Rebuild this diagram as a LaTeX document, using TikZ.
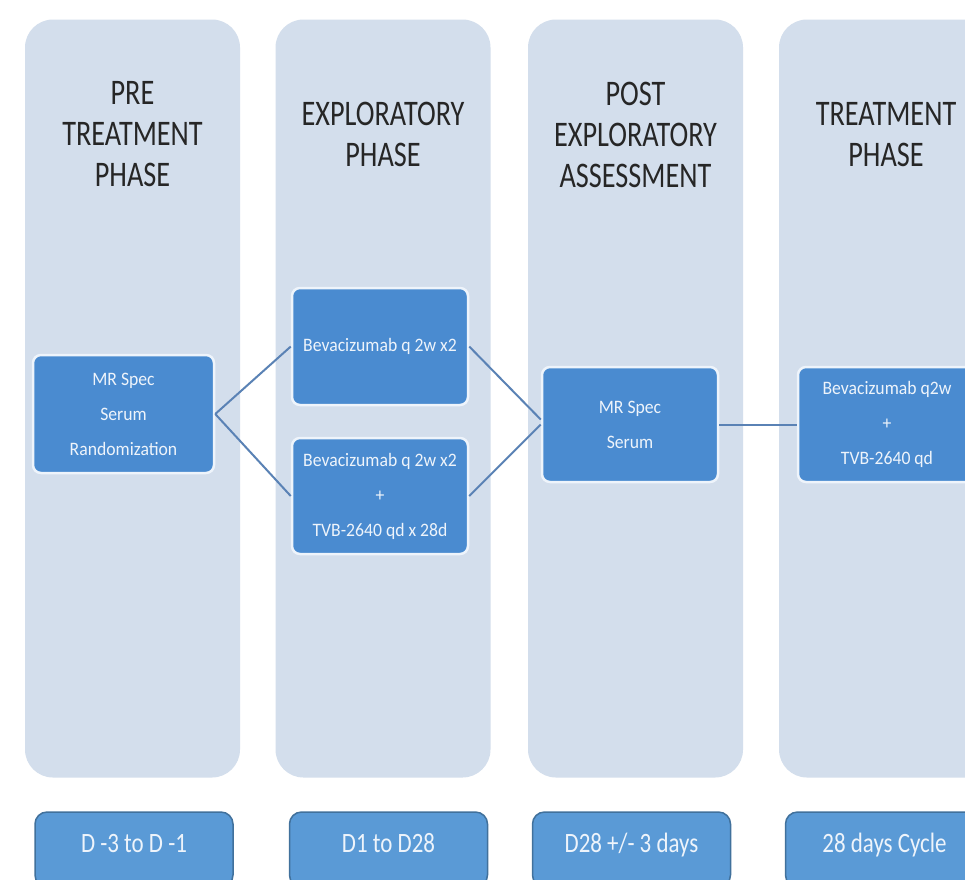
\documentclass[tikz,border=0pt]{standalone}
\usepackage{fontspec}
\setmainfont{Carlito}
\usepackage{graphicx}
\newcommand{\hsq}[1]{\scalebox{0.785}[1]{#1}}
\newcommand{\isq}[1]{\scalebox{0.93}[1]{#1}}
\newcommand{\dsq}[1]{\scalebox{0.82}[1]{#1}}
\definecolor{colbg}{HTML}{D3DEEC}
\definecolor{boxblue}{HTML}{4A8BD0}
\definecolor{boxedge}{HTML}{EEF4FB}
\definecolor{datefill}{HTML}{5A9AD6}
\definecolor{dateedge}{HTML}{41719C}
\definecolor{linkblue}{HTML}{5A82B5}
\definecolor{headgray}{HTML}{262626}
\definecolor{lighttext}{HTML}{EEF4FB}
\tikzset{
  colbox/.style={fill=colbg, draw=none, rounded corners=28pt, minimum width=215pt, minimum height=758pt, inner sep=0pt},
  headtext/.style={text=headgray, align=center, inner sep=0pt, font=\fontsize{36}{41}\selectfont},
  innerbox/.style={fill=boxblue, draw=boxedge, line width=2.5pt, rounded corners=8pt, text=lighttext, align=center, inner sep=0pt, font=\fontsize{19}{35}\selectfont},
  datebox/.style={fill=datefill, draw=dateedge, line width=1.5pt, rounded corners=12pt, text=lighttext, minimum width=198pt, minimum height=75pt, inner sep=0pt, text height=0.65em, text depth=0pt, font=\fontsize{28}{30}\selectfont},
  link/.style={draw=linkblue, line width=2pt}
}
\begin{document}
\begin{tikzpicture}[x=1pt,y=-1pt]
\useasboundingbox (0,0) rectangle (965,879);
\clip (0,0) rectangle (965,879);
\fill[white] (0,0) rectangle (965,879);
% columns
\node[colbox] (c1) at (132.5,398.5) {};
\node[colbox] (c2) at (383,398.5) {};
\node[colbox] (c3) at (635.5,398.5) {};
\node[colbox] (c4) at (886.5,398.5) {};
% headers
\node[headtext] (h1) at (132.5,134.5) {\hsq{PRE}\\\hsq{TREATMENT}\\\hsq{PHASE}};
\node[headtext] (h2) at (383,134.5) {\hsq{EXPLORATORY}\\\hsq{PHASE}};
\node[headtext] (h3) at (635.5,134.5) {\hsq{POST}\\\hsq{EXPLORATORY}\\\hsq{ASSESSMENT}};
\node[headtext] (h4) at (886,134.5) {\hsq{TREATMENT}\\\hsq{PHASE}};
% inner boxes
\node[innerbox, minimum width=181pt, minimum height=118pt] (a) at (123.5,414) {\isq{MR Spec}\\\isq{Serum}\\\isq{Randomization}};
\node[innerbox, minimum width=176pt, minimum height=117pt] (b1) at (380,346.5) {\isq{Bevacizumab q 2w x2}};
\node[innerbox, minimum width=176pt, minimum height=116pt] (b2) at (380,496) {\isq{Bevacizumab q 2w x2}\\\isq{+}\\\isq{TVB-2640 qd x 28d}};
\node[innerbox, minimum width=176pt, minimum height=115pt] (c) at (630,424.5) {\isq{MR Spec}\\\isq{Serum}};
\node[innerbox, minimum width=178pt, minimum height=115pt] (d) at (887,424.5) {\isq{Bevacizumab q2w}\\\isq{+}\\\isq{TVB-2640 qd}};
% connectors
\draw[link] (a.east) -- (b1.west);
\draw[link] (a.east) -- (b2.west);
\draw[link] (b1.east) -- ([yshift=5pt]c.west);
\draw[link] (b2.east) -- (c.west);
\draw[link] (c.east) -- (d.west);
% date boxes
\node[datebox] (d1) at (134,849.5) {\dsq{D -3 to D -1}};
\node[datebox] (d2) at (388.5,849.5) {\dsq{D1 to D28}};
\node[datebox] (d3) at (631.5,849.5) {\dsq{D28 +/- 3 days}};
\node[datebox] (d4) at (884.5,849.5) {\dsq{28 days Cycle}};
\end{tikzpicture}
\end{document}
